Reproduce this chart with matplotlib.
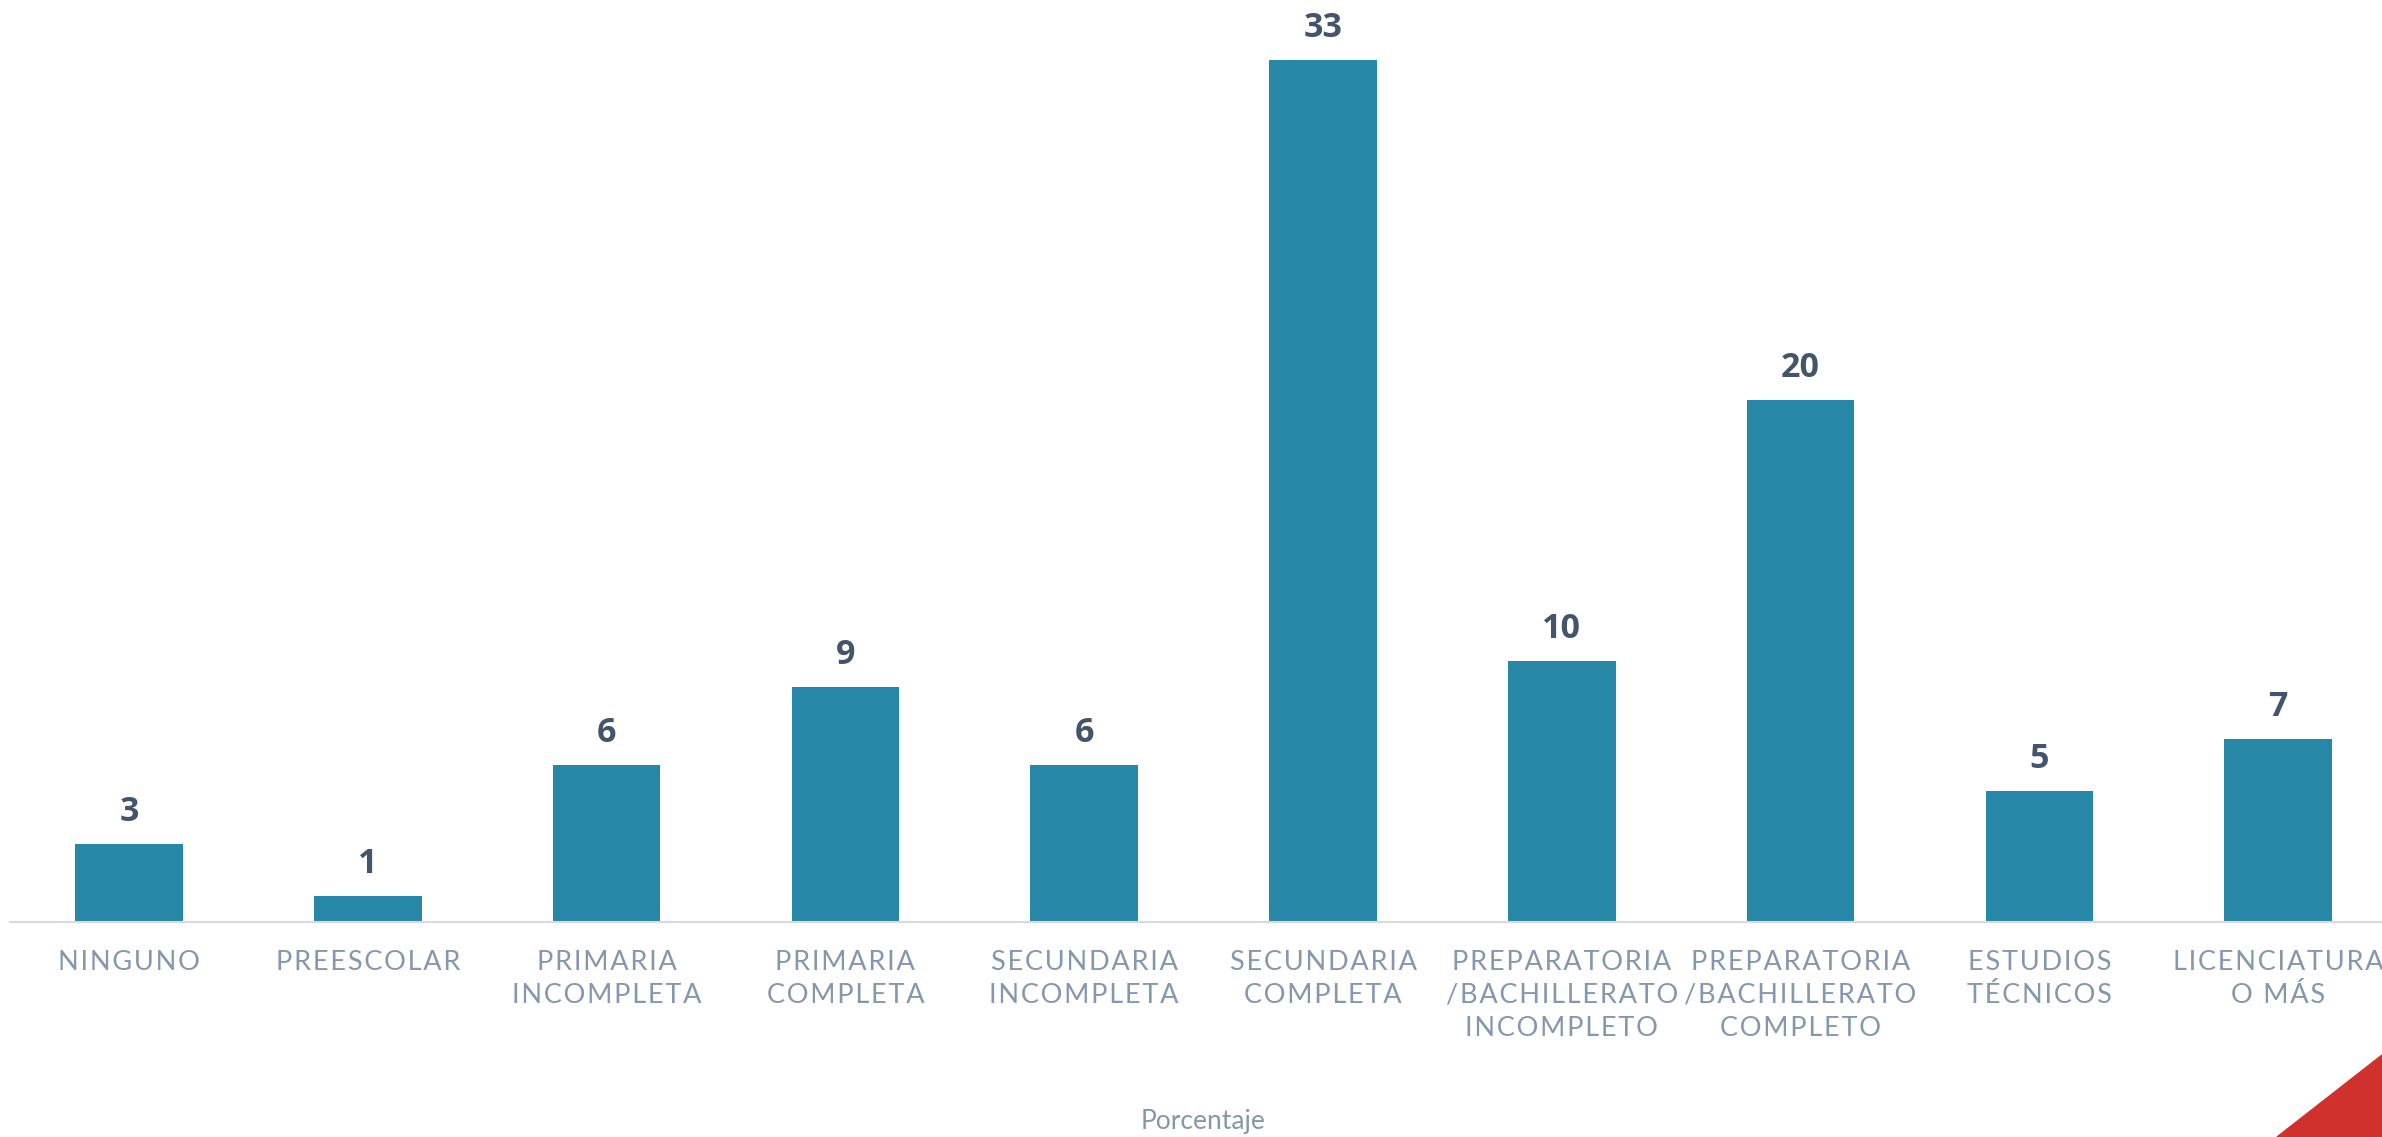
import matplotlib.pyplot as plt
from matplotlib import patches

# data
categories = ["NINGUNO", "PREESCOLAR", "PRIMARIA\nINCOMPLETA", "PRIMARIA\nCOMPLETA",
              "SECUNDARIA\nINCOMPLETA", "SECUNDARIA\nCOMPLETA",
              "PREPARATORIA\n/BACHILLERATO\nINCOMPLETO", "PREPARATORIA\n/BACHILLERATO\nCOMPLETO",
              "ESTUDIOS\nTÉCNICOS", "LICENCIATURA\nO MÁS"]
values = [3, 1, 6, 9, 6, 33, 10, 20, 5, 7]
xlabel = "Porcentaje"

def spaced(s): #fake letter spacing with hair spaces
  return "\n".join("\u200a".join(line) for line in s.split("\n"))

W, H = 2382, 1137
fig = plt.figure(figsize=(W/100, H/100), dpi=100)
ax = fig.add_axes([9.6/W, (H-922)/H, 2388/W, 922/H])

x = list(range(len(values)))
bars = ax.bar(x, values, width=0.45, color='#2687A7', zorder=2)
ax.set_xlim(-0.5, len(values)-0.5)
ax.set_ylim(0, 35.3)

for b, v in zip(bars, values):
  ax.annotate(str(v), (b.get_x()+b.get_width()/2, v), xytext=(0, 16.5), textcoords='offset points',
              ha='center', va='baseline', fontsize=24.5, fontweight='bold',
              color='#44546A', family='Open Sans')

ax.set_xticks(x)
ax.set_xticklabels([spaced(c) for c in categories], family=['Lato', 'DejaVu Sans'], fontsize=19.5,
                   color='#8497B0', linespacing=1.4)
ax.tick_params(axis='x', length=0, pad=20)
ax.set_yticks([])
for s in ['top', 'right', 'left']:
  ax.spines[s].set_visible(False)
ax.spines['bottom'].set_color('#D9D9D9')
ax.spines['bottom'].set_linewidth(1.5)

fig.text(0.505, 15/H, xlabel, ha='center', va='center', fontsize=19, color='#8497B0', family='Lato')

# red corner triangle
tri = patches.Polygon([(2277/W, 0), (1, 82/H), (1, 0)], closed=True, transform=fig.transFigure,
                      color='#D0312D', zorder=5)
fig.patches.append(tri)

fig.savefig('out.png', dpi=100)
